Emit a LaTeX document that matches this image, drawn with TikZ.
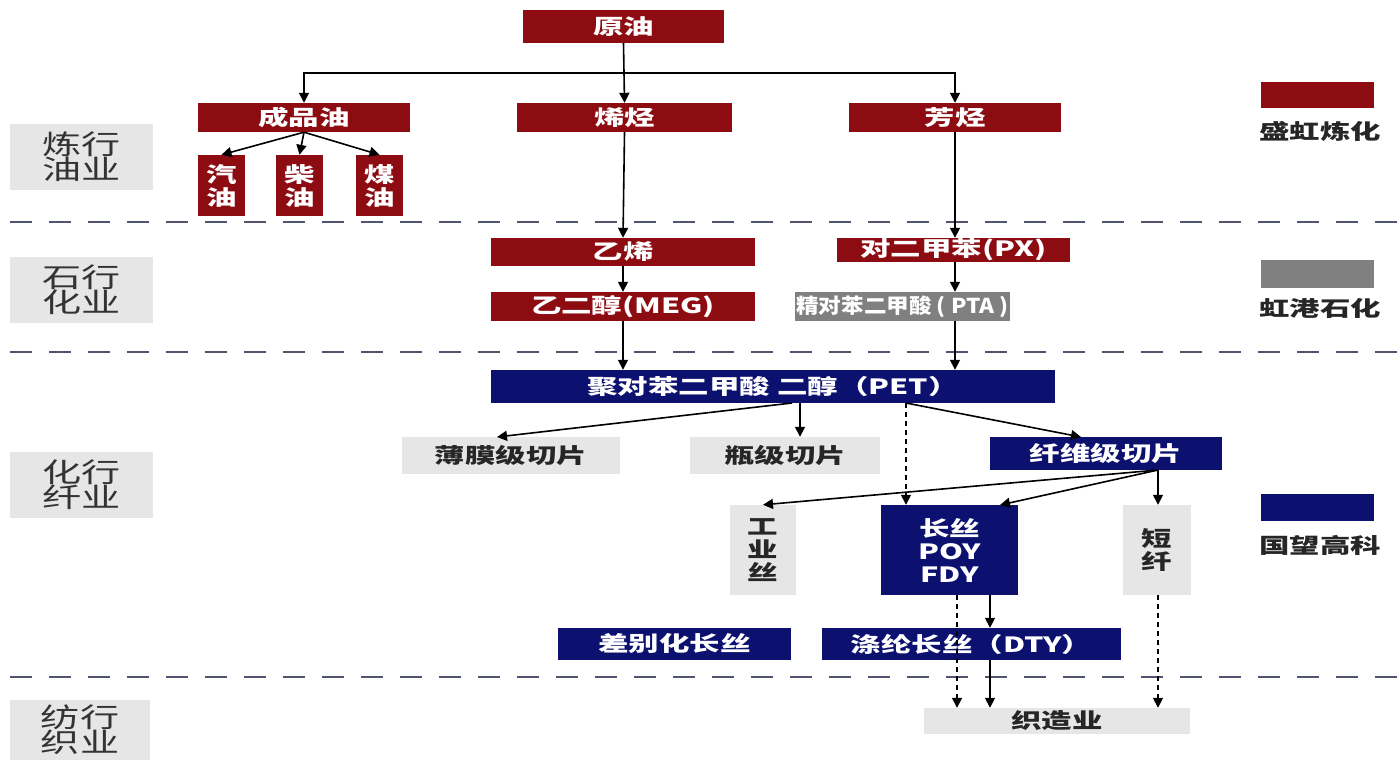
\documentclass[tikz,border=0pt]{standalone}
\usepackage{fontspec}
\setmainfont{Noto Sans CJK SC}[FakeStretch=1.45]
\newfontfamily\ptafont{Noto Sans CJK SC}[FakeStretch=1.1]
\usetikzlibrary{arrows.meta}
\definecolor{dred}{RGB}{140,12,18}
\definecolor{navy}{RGB}{12,16,110}
\definecolor{mgray}{RGB}{128,128,128}
\definecolor{lgray}{RGB}{230,230,230}
\definecolor{sepc}{RGB}{80,84,110}
\begin{document}
\begin{tikzpicture}[x=1pt,y=-1pt,
 box/.style={inner sep=0pt, text=white, font=\fontsize{21}{22}\selectfont\bfseries, align=center},
 redbox/.style={box, fill=dred},
 navybox/.style={box, fill=navy},
 graybox/.style={box, fill=mgray},
 lbox/.style={box, fill=lgray, text=black!85},
 sidebox/.style={inner sep=0pt, fill=lgray, text=black!80, font=\fontsize{27}{25}\selectfont, align=center, minimum width=143pt, minimum height=66pt},
 arr/.style={-{Triangle[length=10pt,width=10pt]}, line width=1.6pt},
 darr/.style={arr, dash pattern=on 5pt off 4pt},
 sepline/.style={sepc, line width=2.8pt, dash pattern=on 22pt off 17pt},
 legtext/.style={font=\fontsize{21}{22}\selectfont\bfseries, text=black!85},
 vtext/.style={font=\fontsize{21}{23}\selectfont\bfseries}
]
\useasboundingbox (0,0) rectangle (1399,760);
\clip (0,0) rectangle (1399,760);

% separators
\coordinate (s1a) at (10,222); \coordinate (s1b) at (1399,222);
\coordinate (s2a) at (10,352); \coordinate (s2b) at (1399,352);
\coordinate (s3a) at (10,677); \coordinate (s3b) at (1399,677);
\draw[sepline] (s1a) -- (s1b);
\draw[sepline] (s2a) -- (s2b);
\draw[sepline] (s3a) -- (s3b);

% side labels
\node[sidebox] (side1) at (81.5,157) {炼行\\油业};
\node[sidebox] (side2) at (81.5,290) {石行\\化业};
\node[sidebox] (side3) at (81.5,485) {化行\\纤业};
\node[sidebox, minimum width=140pt, minimum height=60pt] (side4) at (80,730) {纺行\\织业};

% legend
\node[fill=dred, minimum width=113pt, minimum height=26pt, inner sep=0pt] (leg1) at (1317.5,95) {};
\node[legtext] (leg1t) at (1320,131) {盛虹炼化};
\node[fill=mgray, minimum width=113pt, minimum height=28pt, inner sep=0pt] (leg2) at (1317.5,274) {};
\node[legtext] (leg2t) at (1320,308) {虹港石化};
\node[fill=navy, minimum width=113pt, minimum height=27pt, inner sep=0pt] (leg3) at (1317.5,507.5) {};
\node[legtext] (leg3t) at (1320,545) {国望高科};

% refining
\node[redbox, minimum width=201pt, minimum height=33pt] (yuan) at (623.5,26.5) {原油};
\node[redbox, minimum width=212pt, minimum height=29pt] (chengpin) at (304,117.5) {成品油};
\node[redbox, minimum width=215pt, minimum height=29pt] (xiting) at (624.5,117.5) {烯烃};
\node[redbox, minimum width=212pt, minimum height=29pt] (fang) at (955,117.5) {芳烃};
\node[redbox, vtext, minimum width=47pt, minimum height=61pt] (qiyou) at (221.5,185.5) {汽\\油};
\node[redbox, vtext, minimum width=47pt, minimum height=61pt] (chaiyou) at (299.5,185.5) {柴\\油};
\node[redbox, vtext, minimum width=47pt, minimum height=61pt] (meiyou) at (379.5,185.5) {煤\\油};

% petrochemical
\node[redbox, minimum width=264pt, minimum height=28pt] (yixi) at (623,252) {乙烯};
\node[redbox, minimum width=233pt, minimum height=24pt] (px) at (953.5,250) {对二甲苯(PX)};
\node[redbox, minimum width=264pt, minimum height=29pt] (meg) at (623,306.5) {乙二醇(MEG)};
\node[graybox, minimum width=215pt, minimum height=29pt, font=\ptafont\fontsize{20.5}{21}\selectfont\bfseries] (pta) at (902.5,306.5) {精对苯二甲酸 ( PTA )};

% fibre
\node[navybox, minimum width=564pt, minimum height=33pt] (pet) at (773,386.5) {聚对苯二甲酸 二醇（PET）};
\node[lbox, minimum width=218pt, minimum height=37pt] (bomo) at (511,455.5) {薄膜级切片};
\node[lbox, minimum width=190pt, minimum height=37pt] (ping) at (785,455.5) {瓶级切片};
\node[navybox, minimum width=232pt, minimum height=33pt] (xianwei) at (1106,453.5) {纤维级切片};
\node[lbox, vtext, minimum width=66pt, minimum height=90pt] (gongye) at (763,550) {工\\业\\丝};
\node[navybox, vtext, minimum width=137pt, minimum height=90pt] (changsi) at (949.5,550) {长丝\\POY\\FDY};
\node[lbox, vtext, minimum width=68pt, minimum height=90pt] (duanxian) at (1157,550) {短\\纤};
\node[navybox, minimum width=233pt, minimum height=32pt] (chabie) at (674.5,644) {差别化长丝};
\node[navybox, minimum width=299pt, minimum height=32pt] (dty) at (971.5,644) {涤纶长丝（DTY）};

% textile
\node[lbox, minimum width=266pt, minimum height=26pt] (zhizao) at (1057,721) {织造业};

% connectors
\coordinate (hb) at (623.5,73);
\draw[arr] (yuan.south) -- (xiting.north);
\draw[arr] (hb) -| (chengpin.north);
\draw[arr] (hb) -| (fang.north);
\draw[arr] (chengpin.south) -- (qiyou.north);
\draw[arr] (chengpin.south) -- (chaiyou.north);
\draw[arr] (chengpin.south) -- (meiyou.north);
\draw[arr] (xiting.south) -- (yixi.north);
\draw[arr] (fang.south) -- (fang.south |- px.north);
\draw[arr] (yixi.south) -- (meg.north);
\draw[arr] (fang.south |- px.south) -- (fang.south |- pta.north);
\draw[arr] (meg.south) -- (meg.south |- pet.north);
\draw[arr] (fang.south |- pta.south) -- (fang.south |- pet.north);

\coordinate (petA) at (792,403);
\coordinate (bomoT) at (497,437);
\coordinate (petB) at (800,403);
\coordinate (petC) at (906,403);
\coordinate (xwT) at (1081,437);
\coordinate (xwB) at (1158,470);
\coordinate (csT) at (1000,505);
\coordinate (csA) at (957,595);
\coordinate (csB) at (990,595);
\draw[arr] (petA) -- (bomoT);
\draw[arr] (petB) -- (petB |- ping.north);
\draw[arr] (petC) -- (xwT);
\draw[darr] (petC) -- (petC |- changsi.north);
\draw[arr] (xwB) -- (gongye.north);
\draw[arr] (xwB) -- (csT);
\draw[arr] (xwB) -- (xwB |- duanxian.north);
\draw[arr] (csB) -- (csB |- dty.north);
\draw[darr] (csA) -- (csA |- zhizao.north);
\draw[arr] (csB |- dty.south) -- (csB |- zhizao.north);
\draw[darr] (xwB |- duanxian.south) -- (xwB |- zhizao.north);
\end{tikzpicture}
\end{document}
